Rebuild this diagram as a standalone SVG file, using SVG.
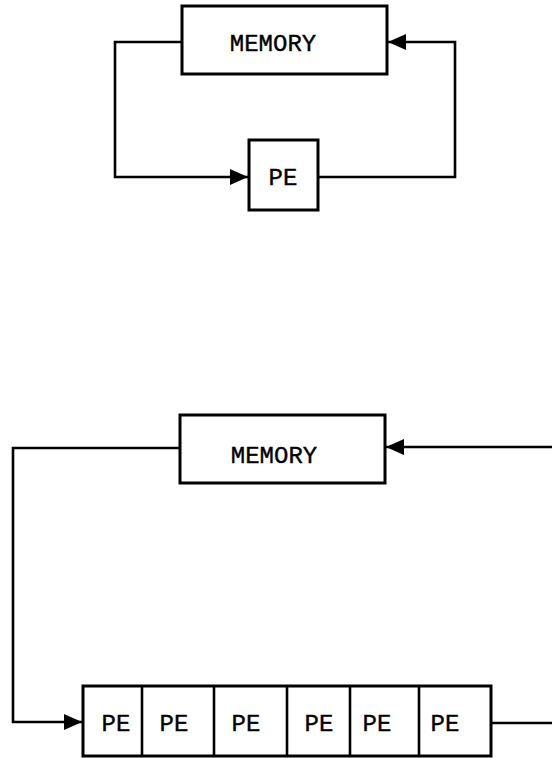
<svg xmlns="http://www.w3.org/2000/svg" width="552" height="758" viewBox="0 0 552 758">
<defs>
<style>
.box{fill:#fff;stroke:#000;stroke-width:3}
.ln{fill:none;stroke:#000;stroke-width:2.6}
.t{font-family:"Liberation Mono","Courier New",monospace;font-size:24px;fill:#000;text-anchor:middle;stroke:#000;stroke-width:0.4}
</style>
<marker id="ah" markerWidth="18" markerHeight="16" refX="18" refY="8" orient="auto" markerUnits="userSpaceOnUse">
<path d="M0,0 L18,8 L0,16 Z" fill="#000"/>
</marker>
</defs>
<rect width="552" height="758" fill="#fff"/>
<g id="connectors">
<polyline class="ln" points="182,42 115,42 115,177 248,177" marker-end="url(#ah)"/>
<polyline class="ln" points="318,177 455,177 455,42 388,42" marker-end="url(#ah)"/>
<polyline class="ln" points="180,448 13,448 13,722 82,722" marker-end="url(#ah)"/>
<polyline class="ln" points="552,447 386,447" marker-end="url(#ah)"/>
<line class="ln" x1="491" y1="723" x2="552" y2="723"/>
</g>
<g id="memory1">
<rect class="box" x="182" y="6" width="205" height="68"/>
<text class="t" x="273" y="51">MEMORY</text>
</g>
<g id="pe1">
<rect class="box" x="249" y="140" width="69" height="70"/>
<text class="t" x="283" y="185">PE</text>
</g>
<g id="memory2">
<rect class="box" x="180" y="415" width="205" height="68"/>
<text class="t" x="274" y="463">MEMORY</text>
</g>
<g id="pe-row">
<rect class="box" x="83" y="686" width="408" height="70"/>
<line class="ln" x1="142" y1="686" x2="142" y2="756"/>
<line class="ln" x1="214" y1="686" x2="214" y2="756"/>
<line class="ln" x1="287" y1="686" x2="287" y2="756"/>
<line class="ln" x1="350" y1="686" x2="350" y2="756"/>
<line class="ln" x1="419" y1="686" x2="419" y2="756"/>
<text class="t" x="116" y="731">PE</text>
<text class="t" x="174" y="731">PE</text>
<text class="t" x="246" y="731">PE</text>
<text class="t" x="319" y="731">PE</text>
<text class="t" x="377" y="731">PE</text>
<text class="t" x="445" y="731">PE</text>
</g>
</svg>
